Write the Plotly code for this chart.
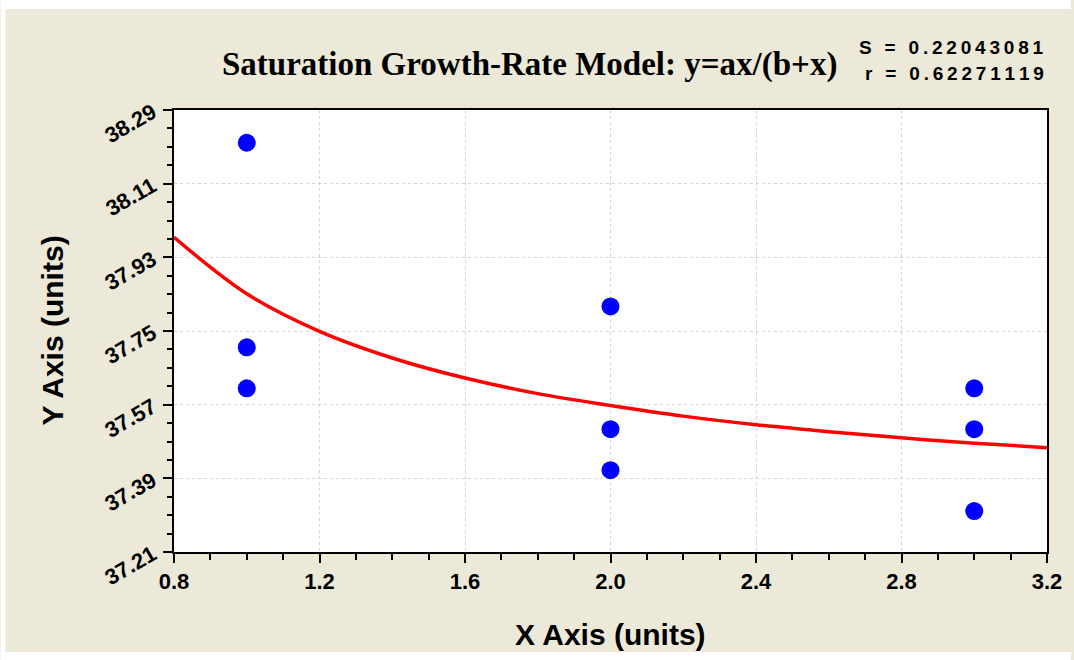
import plotly.graph_objects as go

# Data points
x_data = [1.0, 1.0, 1.0, 2.0, 2.0, 2.0, 3.0, 3.0, 3.0]
y_data = [38.21, 37.71, 37.61, 37.81, 37.51, 37.41, 37.61, 37.51, 37.31]

# Fitted model curve y = a*x/(b+x)
curve_x = [0.8, 1.0, 1.2, 1.4, 1.6, 1.8, 2.0, 2.2, 2.4, 2.6, 2.8, 3.0, 3.2]
curve_y = [37.979, 37.841, 37.749, 37.684, 37.635, 37.597, 37.568, 37.542,
           37.521, 37.504, 37.489, 37.476, 37.465]

title_text = "Saturation Growth-Rate Model: y=ax/(b+x)"
s_text = "S = 0.22043081"
r_text = "r = 0.62271119"
x_title = "X Axis (units)"
y_title = "Y Axis (units)"

W, H = 1074, 660
L, R, T, B = 174, 1050, 110, 552
BEIGE = "#ECE9D8"
SANS = "Liberation Sans, Arial"

def px(x):
    return (x - L) / (R - L)

def py(y):
    return (B - y) / (B - T)

def spaced(s):
    return "\u2009".join(s)

fig = go.Figure()
fig.add_trace(go.Scatter(x=curve_x, y=curve_y, mode="lines",
                         line=dict(color="#FF0000", width=3.5, shape="spline"),
                         hoverinfo="skip", showlegend=False))
fig.add_trace(go.Scatter(x=x_data, y=y_data, mode="markers",
                         marker=dict(color="#0000FF", size=18, line=dict(width=0)),
                         showlegend=False))

tickfont = dict(family=SANS, size=22, color="black", weight="bold")

fig.update_xaxes(range=[0.8, 3.2], tick0=0.8, dtick=0.4, tickformat=".1f",
                 ticks="outside", ticklen=9, tickwidth=2, tickcolor="black",
                 showline=True, linewidth=2, linecolor="black", mirror=True,
                 showgrid=True, gridcolor="#d4d4d4", griddash="dot", gridwidth=1,
                 zeroline=False, tickfont=tickfont,
                 minor=dict(dtick=0.1, tick0=0.8, ticks="outside", ticklen=6,
                            tickwidth=2, tickcolor="black", showgrid=False))
fig.update_yaxes(range=[37.21, 38.29], tick0=37.21, dtick=0.18, tickformat=".2f",
                 ticks="outside", ticklen=9, tickwidth=2, tickcolor="black",
                 showline=True, linewidth=2, linecolor="black", mirror=True,
                 showgrid=True, gridcolor="#d4d4d4", griddash="dot", gridwidth=1,
                 zeroline=False, tickfont=tickfont, tickangle=-30,
                 ticklabelstandoff=6,
                 minor=dict(dtick=0.045, tick0=37.21, ticks="outside", ticklen=5,
                            tickwidth=2, tickcolor="black", showgrid=False))

fig.add_annotation(xref="paper", yref="paper", x=px(531), y=py(65),
                   text=title_text, showarrow=False, xanchor="center", yanchor="middle",
                   font=dict(family="Liberation Serif, serif", size=33, color="black",
                             weight="bold"))
fig.add_annotation(xref="paper", yref="paper", x=px(1049), y=py(47),
                   text=spaced(s_text), showarrow=False, xanchor="right", yanchor="middle",
                   font=dict(family=SANS, size=19, color="black", weight="bold"))
fig.add_annotation(xref="paper", yref="paper", x=px(1049), y=py(73),
                   text=spaced(r_text), showarrow=False, xanchor="right", yanchor="middle",
                   font=dict(family=SANS, size=19, color="black", weight="bold"))
fig.add_annotation(xref="paper", yref="paper", x=px(612), y=py(634),
                   text=x_title, showarrow=False, xanchor="center", yanchor="middle",
                   font=dict(family=SANS, size=30, color="black", weight="bold"))
fig.add_annotation(xref="paper", yref="paper", x=px(52), y=py(330),
                   text=y_title, showarrow=False, xanchor="center", yanchor="middle",
                   textangle=-90,
                   font=dict(family=SANS, size=30, color="black", weight="bold"))

# white outer margin strips, drawn behind
fig.add_shape(type="rect", xref="paper", yref="paper", layer="below",
              x0=px(0), x1=px(W), y0=py(0), y1=py(9), fillcolor="white", line_width=0)
fig.add_shape(type="rect", xref="paper", yref="paper", layer="below",
              x0=px(0), x1=px(5), y0=py(0), y1=py(H), fillcolor="white", line_width=0)
fig.add_shape(type="rect", xref="paper", yref="paper", layer="below",
              x0=px(0), x1=px(W), y0=py(652), y1=py(H), fillcolor="white", line_width=0)

fig.update_layout(width=W, height=H, paper_bgcolor=BEIGE, plot_bgcolor="white",
                  margin=dict(l=L, r=W - R, t=T, b=H - B),
                  font=dict(family=SANS, color="black"))

fig.write_html("out.html")
